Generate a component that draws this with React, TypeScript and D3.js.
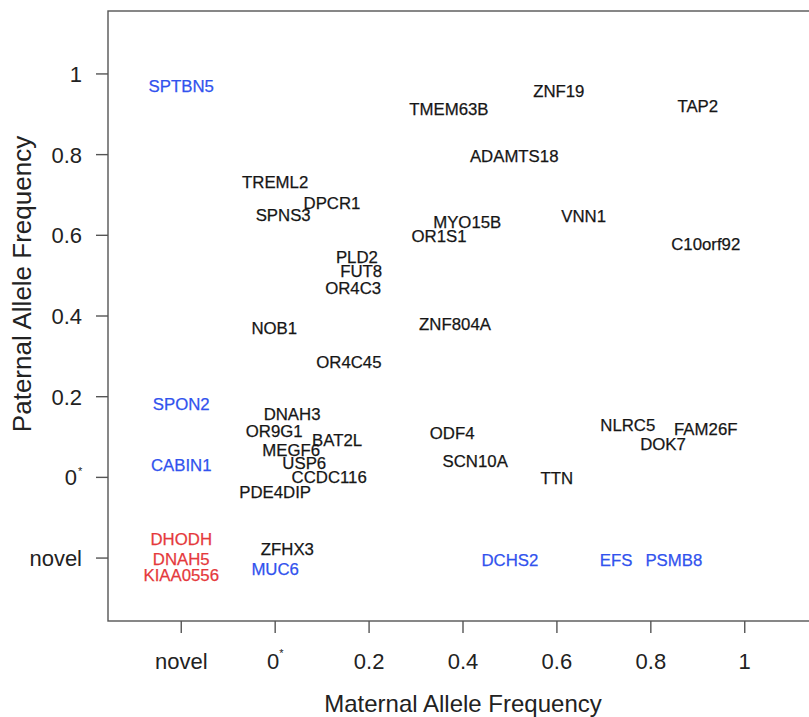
import React from 'react';
import * as d3 from 'd3';

// gene labels, placed at (maternal, paternal) allele frequency; -0.2 = "novel"
const genes = [
  'SPTBN5', 'TREML2', 'DPCR1', 'SPNS3', 'PLD2', 'FUT8', 'OR4C3', 'NOB1', 'OR4C45',
  'ZNF19', 'TMEM63B', 'TAP2', 'ADAMTS18', 'MYO15B', 'OR1S1', 'VNN1', 'C10orf92', 'ZNF804A',
  'SPON2', 'DNAH3', 'OR9G1', 'BAT2L', 'MEGF6', 'USP6', 'CABIN1', 'CCDC116', 'PDE4DIP',
  'DHODH', 'DNAH5', 'KIAA0556', 'ZFHX3', 'MUC6',
  'ODF4', 'SCN10A', 'TTN', 'NLRC5', 'FAM26F', 'DOK7', 'DCHS2', 'EFS', 'PSMB8',
];
const maternal = [
  -0.2, 0.0, 0.121, 0.017, 0.174, 0.183, 0.166, -0.002, 0.157,
  0.604, 0.37, 0.9, 0.509, 0.409, 0.349, 0.657, 0.917, 0.383,
  -0.2, 0.036, -0.002, 0.132, 0.034, 0.062, -0.2, 0.115, 0.0,
  -0.2, -0.2, -0.2, 0.026, 0.0,
  0.377, 0.426, 0.6, 0.751, 0.917, 0.826, 0.5, 0.726, 0.849,
];
const paternal = [
  0.971, 0.733, 0.681, 0.651, 0.547, 0.512, 0.47, 0.371, 0.285,
  0.958, 0.913, 0.921, 0.797, 0.634, 0.599, 0.649, 0.579, 0.381,
  0.181, 0.156, 0.116, 0.094, 0.067, 0.035, 0.03, 0.002, -0.037,
  -0.153, -0.203, -0.243, -0.178, -0.228,
  0.111, 0.04, -0.002, 0.129, 0.119, 0.082, -0.205, -0.205, -0.205,
];
// k = black, b = blue, r = red
const groups = [
  'b', 'k', 'k', 'k', 'k', 'k', 'k', 'k', 'k',
  'k', 'k', 'k', 'k', 'k', 'k', 'k', 'k', 'k',
  'b', 'k', 'k', 'k', 'k', 'k', 'b', 'k', 'k',
  'r', 'r', 'r', 'k', 'b',
  'k', 'k', 'k', 'k', 'k', 'k', 'b', 'b', 'b',
];

const tickValues = [-0.2, 0, 0.2, 0.4, 0.6, 0.8, 1];
const tickLabels = ['novel', '0', '0.2', '0.4', '0.6', '0.8', '1'];

const colors: Record<string, string> = { k: '#161616', b: '#3152ee', r: '#e5393c' };
const font = '"Liberation Sans", Arial, Helvetica, sans-serif';

const App = () => {
  const width = 809;
  const height = 717;
  const frame = { left: 108, right: 818, top: 11, bottom: 621 };

  const x = d3.scaleLinear().domain([-0.356, 1.156]).range([frame.left, frame.right]);
  const y = d3.scaleLinear().domain([-0.356, 1.156]).range([frame.bottom, frame.top]);

  const tickLen = 12;

  return (
    <svg width={width} height={height} style={{ position: 'absolute', left: 0, top: 0 }} fontFamily={font}>
      <rect x={0} y={0} width={width} height={height} fill="#fff" />
      <rect
        x={frame.left}
        y={frame.top}
        width={frame.right - frame.left}
        height={frame.bottom - frame.top}
        fill="none"
        stroke="#555"
        strokeWidth={1.4}
      />

      {/* x axis */}
      {tickValues.map((v, i) => (
        <g key={'x' + i}>
          <line x1={x(v)} x2={x(v)} y1={frame.bottom} y2={frame.bottom + tickLen} stroke="#555" strokeWidth={1.4} />
          <text x={x(v)} y={669} textAnchor="middle" fontSize={22} fill="#222">
            {tickLabels[i]}
            {i === 1 && <tspan fontSize={11} dy={-12}>*</tspan>}
          </text>
        </g>
      ))}

      {/* y axis */}
      {tickValues.map((v, i) => (
        <g key={'y' + i}>
          <line x1={frame.left - tickLen} x2={frame.left} y1={y(v)} y2={y(v)} stroke="#555" strokeWidth={1.4} />
          <text x={i === 1 ? 77 : 82} y={y(v) + 8} textAnchor="end" fontSize={22} fill="#222">
            {tickLabels[i]}
          </text>
          {i === 1 && (
            <text x={78} y={y(v) - 2} fontSize={11} fill="#222">*</text>
          )}
        </g>
      ))}

      <text x={(frame.left + frame.right) / 2} y={712} textAnchor="middle" fontSize={24} fill="#222">
        Maternal Allele Frequency
      </text>
      <text
        transform="translate(31,284) rotate(-90)"
        textAnchor="middle"
        fontSize={26}
        fill="#222"
      >
        Paternal Allele Frequency
      </text>

      {/* gene labels */}
      {genes.map((g, i) => (
        <text
          key={g}
          x={x(maternal[i])}
          y={y(paternal[i])}
          dy="0.36em"
          textAnchor="middle"
          fontSize={16.8}
          fill={colors[groups[i]]}
          stroke={colors[groups[i]]}
          strokeWidth={0.25}
        >
          {g}
        </text>
      ))}
    </svg>
  );
};

export default App;
